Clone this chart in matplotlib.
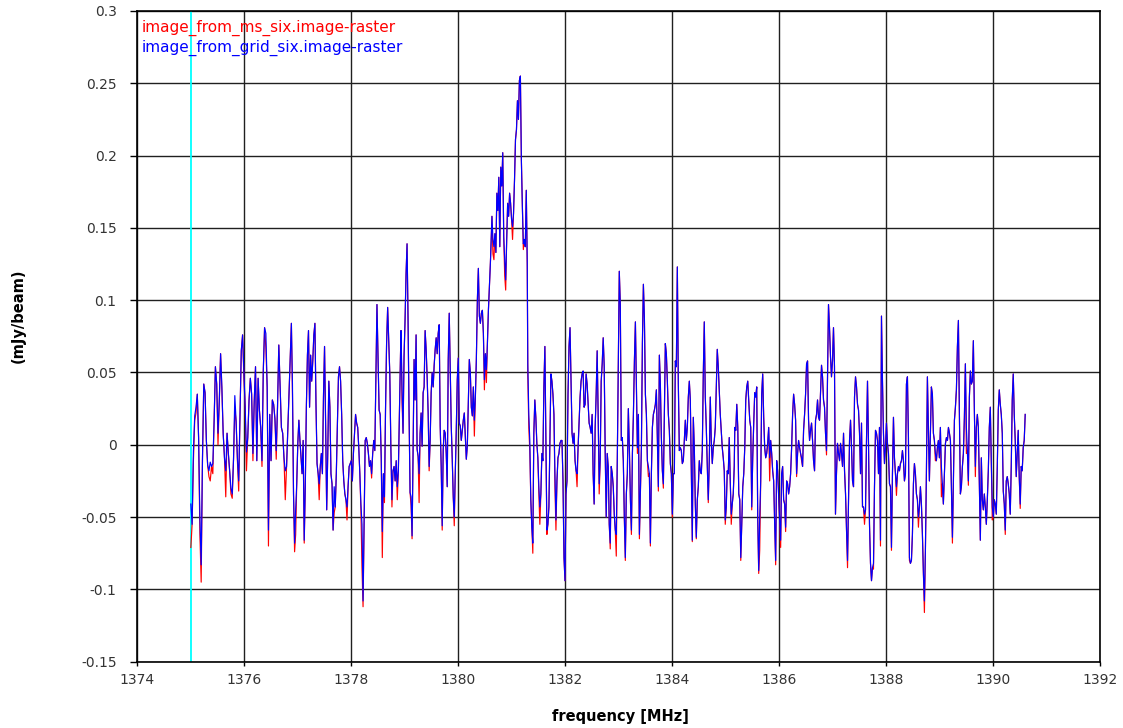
import numpy as np
import matplotlib
matplotlib.use("Agg")
import matplotlib.pyplot as plt

# channel ranges covered by each chunk of the spectrum (MHz)
seg_lo = [1375.00, 1376.88, 1378.93, 1380.63, 1381.30, 1383.20, 1385.17, 1387.11, 1389.09]
seg_hi = [1376.79, 1378.92, 1380.62, 1381.29, 1383.18, 1385.16, 1387.09, 1389.07, 1390.60]

# image_from_grid_six (blue), values in uJy/beam
grid_1 = [-41, -55, -4, 20, 26, 35, 5, -50, -83, -10, 42, 36, 3, -14, -18, -12, -15, -13, 16, 54,
          42, 8, 30, 63, 40, 8, -9, -18, 8, -6, -18, -30, -34, -10, 34, 16, -9, -25, 20, 65,
          76, 50, 26, -5, 5, 31, 46, 35, -6, 30, 54, -11, 46, 24, 12, -11, 51, 81, 77, 40,
          -59, 21, -11, 31, 28, 18, -4, 26, 69, 40, 12, 8, -9, -18, -15]
grid_2 = [84, 42, -34, -68, -45, -27, 1, 17, 3, -9, -20, 3, -66, -29, 26, 62, 79, 26, 62, 44,
          58, 76, 84, 28, -13, -20, -27, -15, -6, -20, 33, 68, 15, -45, -6, 44, 26, -20, -27, -59,
          -29, -43, -20, 15, 47, 54, 44, 21, -11, -25, -34, -38, -43, -29, -15, -13, -11, -25, -6, 8,
          21, 15, 12, -2, -20, -41, -55, -108, -52, 3, 5, 1, -6, -15, -11, -20, -6, 3, -4, 49,
          97, 61, 24, 21, -9, -60, -20, -36, 24, 70, 95, 72, 49, -2, -38, -18, -15, -25, -11, -29,
          -18, 24, 62]
grid_3 = [79, 40, 8, 61, 86, 118, 139, 86, 22, -33, -36, -63, -6, 59, 31, 76, -3, -8, -20, 8,
          22, -1, 36, 40, 79, 66, 47, 22, -15, 3, 36, 50, 40, 55, 66, 74, 63, 77, 83, 13,
          -15, -56, -3, 10, 8, -6, -29, 59, 91, 50, 13, -10, -36, -50, -20, 10, 45, 60, 15, 13,
          3, 10, 17, 22, 6, -10, -1, 29, 59, 50, 26, 20, 40, 17, 33, 59, 100, 122, 89, 84,
          91, 93, 77, 45, 63, 52, 70, 93, 109, 126, 146]
grid_4 = [158, 142, 137, 146, 133, 174, 162, 185, 137, 192, 179, 202, 144, 128, 114, 142, 167, 158, 174, 167,
          156, 151, 160, 183, 211, 218, 238, 225, 252, 255, 197, 165, 139, 142, 137, 176, 126]
grid_5 = [56, 21, 3, -38, -57, -68, 8, 31, 19, 1, -9, -29, -43, -34, -6, -11, 40, 68, 3, -59,
          -55, -43, 1, 49, 44, 35, 21, -20, -52, -25, -9, -6, 1, 3, 3, -25, -78, -94, -34, -25,
          35, 68, 81, 44, 8, 1, 8, -11, -18, -20, -2, 15, 33, 44, 49, 51, 26, 28, 49, 42,
          28, 15, 12, 8, 21, -20, -41, 12, 35, 65, 21, -27, -11, 44, 56, 74, 54, -6, -50, -6,
          -15, -55, -68, -15, -20, -29, -48, -59, -62, -11, 54, 120, 97, 3, 5, -11, -50, -78, -34, -20,
          25]
grid_6 = [-4, -38, -59, -6, 21, 58, 85, 40, -2, 21, -62, -32, -2, 70, 111, 88, 35, 21, -11, -15,
          -20, -68, -20, 12, 21, 24, 28, 38, 3, -29, 62, 42, 5, -18, -27, 21, 70, 63, 44, 21,
          10, -13, -20, -48, -20, -20, 58, 54, 123, 42, -4, -2, -4, -13, -11, 3, 17, 3, 12, 33,
          44, 31, -20, -66, 19, -2, -41, -64, -38, -29, -11, -18, -20, -4, 49, 85, 33, 12, -15, -38,
          -11, 33, 3, -13, -2, 3, 12, 38, 66, 54, 38, 21, 10, -2, -9, -18, -52, -43, -18, -20,
          5, -25, -48, -41, -34, -15]
grid_7 = [12, 10, 28, 12, -34, -38, -78, -55, -29, -20, -2, 31, 40, 44, 31, 17, 12, -43, -9, 15,
          36, 33, 40, -50, -87, -50, -25, 35, 49, 19, -2, -9, -6, 1, 12, -9, 3, -6, -18, -25,
          -55, -80, -11, -18, -36, -52, -66, -20, -15, -38, -41, -57, -25, -27, -34, -29, -20, -2, 21, 35,
          28, 17, -20, -6, 3, -2, -6, -9, -15, 10, 21, 35, 56, 58, 17, 3, 10, 15, 3, -11,
          -18, 17, 21, 31, 19, 17, 35, 55, 47, 31, 26, 8, -4, 44, 97, 81, 61, 47, 58, 81,
          54, -48, -20, 1]
grid_8 = [-6, -11, 1, -6, -15, 8, -18, -34, -59, -80, -38, 3, 17, -2, -25, -29, 33, 47, 40, 28,
          24, 8, -20, 15, -43, -43, -48, -45, 3, 44, 1, -55, -82, -94, -85, -82, -29, 10, 8, 3,
          -20, 12, -66, 89, 44, 8, -13, -2, 15, 1, -6, -27, -29, -71, -20, 19, -9, -20, -29, -20,
          -15, -18, -13, -11, -4, -11, -25, -20, 42, 47, 5, -78, -82, -80, -62, -27, -13, -20, -34, -38,
          -50, -43, -29, -41, -62, -89, -108, -73, -20, 47, 10, -25, 8, 40, 35, 8, 3, -6, -11, -2,
          3, -9, 12, -15, -27, -41]
grid_9 = [-20, 1, 5, 3, 12, 8, 3, -29, -64, -25, 17, 26, 38, 68, 86, 21, -34, -29, -15, -6,
          19, 56, 12, -4, -25, 33, 51, 42, 44, 72, 24, -15, 12, 21, 12, -29, -66, -9, -38, -45,
          -34, -43, -55, -38, -18, 12, 26, -11, -43, -50, -38, -41, -48, -15, 24, 38, 28, 21, 8, -32,
          -41, -59, -25, -22, -27, -34, -48, -15, 31, 49, 21, 3, -22, -6, 10, -22, -41, -15, -18, -2,
          3, 21]

# image_from_ms_six (red), values in uJy/beam
ms_1 = [-71, -55, -11, 17, 22, 35, 5, -61, -95, -10, 42, 36, 3, -14, -22, -25, -15, -20, 16, 54,
        42, 0, 30, 63, 38, 8, -9, -36, 8, -6, -18, -34, -37, -10, 25, 16, -11, -32, 20, 65,
        76, 47, 26, -18, 5, 31, 46, 35, -11, 30, 54, -11, 46, 24, 12, -15, 51, 81, 67, 40,
        -70, 21, -11, 31, 28, 18, -10, 26, 69, 40, 12, 8, -9, -38, -15]
ms_2 = [84, 35, -34, -74, -62, -27, 1, 17, 3, -9, -20, 3, -68, -29, 26, 62, 79, 26, 62, 44,
        58, 76, 84, 28, -13, -20, -38, -15, -6, -20, 33, 68, 15, -45, -6, 44, 26, -20, -27, -59,
        -47, -43, -20, 15, 47, 54, 44, 21, -11, -25, -34, -38, -52, -29, -15, -13, -11, -25, -6, 8,
        21, 15, 12, -2, -20, -45, -85, -112, -52, 3, 5, 1, -6, -15, -11, -23, -6, 3, -4, 49,
        97, 61, 24, 21, -9, -78, -20, -40, 24, 70, 95, 72, 49, -2, -43, -18, -15, -25, -11, -38,
        -18, 24, 62]
ms_3 = [79, 29, 8, 61, 86, 118, 139, 86, 22, -33, -42, -65, -6, 59, 31, 76, -3, -8, -40, 8,
        22, -1, 36, 40, 79, 66, 47, 22, -18, 3, 36, 50, 40, 55, 66, 74, 63, 77, 83, 13,
        -15, -59, -3, 10, 8, -6, -29, 59, 91, 50, 13, -10, -36, -56, -20, 10, 45, 60, 15, 13,
        3, 10, 17, 22, 6, -10, -1, 29, 59, 50, 26, 20, 40, 6, 33, 59, 100, 122, 89, 84,
        91, 93, 77, 38, 63, 43, 70, 93, 109, 126, 146]
ms_4 = [158, 132, 128, 146, 133, 174, 162, 185, 137, 192, 179, 202, 144, 117, 107, 142, 167, 158, 174, 167,
        156, 142, 160, 183, 211, 218, 238, 225, 252, 255, 197, 165, 135, 142, 137, 176, 123]
ms_5 = [49, 12, -4, -38, -57, -75, 8, 31, 19, 1, -9, -34, -55, -34, -6, -11, 40, 68, 3, -62,
        -55, -43, 1, 49, 44, 35, 21, -29, -59, -25, -9, -6, 1, 3, 3, -25, -78, -94, -34, -25,
        35, 68, 81, 44, 8, 1, 8, -11, -18, -29, -2, 15, 33, 44, 49, 51, 26, 28, 49, 42,
        28, 15, 12, 8, 21, -20, -41, 12, 35, 65, 21, -34, -11, 44, 56, 74, 54, -6, -50, -6,
        -15, -55, -72, -15, -20, -29, -48, -59, -77, -11, 54, 120, 97, 3, 5, -11, -50, -80, -34, -20,
        25]
ms_6 = [-4, -38, -62, -6, 21, 58, 85, 40, -6, 21, -65, -32, -2, 70, 111, 88, 35, 21, -11, -22,
        -20, -70, -20, 12, 21, 24, 28, 38, 3, -32, 62, 42, 5, -18, -30, 21, 70, 63, 44, 21,
        10, -13, -20, -50, -20, -20, 58, 54, 123, 42, -4, -2, -4, -13, -11, 3, 17, 3, 12, 33,
        44, 31, -20, -67, 19, -2, -41, -65, -38, -29, -11, -18, -20, -4, 49, 85, 33, 12, -15, -40,
        -11, 33, 3, -13, -2, 3, 12, 38, 66, 54, 38, 21, 10, -2, -9, -18, -55, -43, -18, -20,
        5, -25, -55, -41, -34, -15]
ms_7 = [12, 10, 28, 12, -34, -38, -80, -55, -29, -20, -2, 31, 40, 44, 31, 17, 12, -45, -9, 15,
        36, 33, 40, -50, -89, -73, -25, 35, 49, 19, -2, -9, -6, 1, 12, -25, 3, -6, -18, -25,
        -55, -83, -11, -18, -36, -52, -71, -20, -15, -38, -41, -60, -25, -27, -34, -29, -20, -2, 21, 35,
        28, 17, -22, -6, 3, -2, -6, -11, -15, 10, 21, 35, 56, 58, 17, 3, 10, 15, 3, -11,
        -18, 17, 21, 31, 19, 17, 35, 55, 47, 31, 26, 8, -7, 44, 97, 81, 61, 47, 58, 81,
        54, -48, -20, 1]
ms_8 = [-6, -11, 1, -6, -15, 8, -18, -34, -59, -85, -38, 3, 17, -2, -25, -29, 33, 47, 40, 28,
        24, 8, -20, 15, -43, -43, -55, -45, 3, 44, 1, -55, -82, -94, -85, -86, -29, 10, 8, 3,
        -20, 12, -70, 89, 44, 8, -13, -2, 15, 1, -6, -27, -29, -73, -20, 19, -9, -20, -35, -20,
        -15, -18, -13, -11, -4, -11, -25, -20, 42, 47, 5, -80, -82, -80, -62, -27, -13, -20, -34, -38,
        -57, -43, -29, -41, -62, -89, -116, -73, -20, 47, 10, -25, 8, 40, 35, 8, 3, -11, -11, -2,
        3, -9, 12, -36, -27, -41]
ms_9 = [-20, 1, 5, 3, 12, 8, 3, -29, -68, -25, 17, 26, 38, 68, 86, 21, -34, -29, -15, -6,
        19, 56, -6, -4, -28, 33, 51, 42, 44, 72, 24, -22, 12, 21, 12, -29, -66, -9, -38, -45,
        -34, -43, -55, -38, -18, 12, 26, -11, -52, -50, -38, -41, -48, -15, 24, 38, 28, 21, 8, -32,
        -41, -62, -25, -22, -27, -34, -48, -15, 31, 49, 21, 3, -22, -6, 10, -22, -44, -15, -18, -2,
        3, 21]

x_ticks = [1374, 1376, 1378, 1380, 1382, 1384, 1386, 1388, 1390, 1392]
y_ticks = [-0.15, -0.1, -0.05, 0, 0.05, 0.1, 0.15, 0.2, 0.25, 0.3]
y_tick_labels = ['-0.15', '-0.1', '-0.05', '0', '0.05', '0.1', '0.15', '0.2', '0.25', '0.3']
marker_freq = 1375.0

grid_segs = [grid_1, grid_2, grid_3, grid_4, grid_5, grid_6, grid_7, grid_8, grid_9]
ms_segs = [ms_1, ms_2, ms_3, ms_4, ms_5, ms_6, ms_7, ms_8, ms_9]

freq = np.concatenate([np.linspace(lo, hi, len(s)) for lo, hi, s in zip(seg_lo, seg_hi, grid_segs)])
grid = np.concatenate(grid_segs) / 1000.0
ms = np.concatenate(ms_segs) / 1000.0

fig = plt.figure(figsize=(11.23, 7.28), dpi=100)
ax = fig.add_axes([0.1223, 0.0911, 0.8573, 0.8938])

ax.grid(True, color='#202020', lw=1.0)
ax.set_axisbelow(True)
ax.axvline(marker_freq, color='cyan', lw=1.3, zorder=1.5)

ax.plot(freq, ms, color='#ff0000', lw=0.85, zorder=2)
ax.plot(freq, grid, color='#0000ff', lw=0.85, zorder=3)

ax.set_xlim(1374, 1392)
ax.set_ylim(-0.15, 0.3)
ax.set_xticks(x_ticks)
ax.set_xticklabels([str(t) for t in x_ticks])
ax.set_yticks(y_ticks)
ax.set_yticklabels(y_tick_labels)
ax.tick_params(axis='x', direction='out', length=3, width=1, labelsize=10, pad=5, labelcolor='#333333')
ax.tick_params(axis='y', direction='out', length=5, width=1, labelsize=10, pad=10, labelcolor='#333333')
for s in ax.spines.values():
    s.set_linewidth(1.2)
    s.set_color('black')

fig.text(142/1123, 1-28/728, 'image_from_ms_six.image-raster', color='#ff0000', fontsize=11, va='center')
fig.text(142/1123, 1-48/728, 'image_from_grid_six.image-raster', color='#0000ff', fontsize=11, va='center')

fig.text(620/1123, 1-716/728, 'frequency [MHz]', fontsize=10.5, fontweight='bold', ha='center', va='center')
fig.text(18/1123, 1-316/728, '(mJy/beam)', fontsize=10.5, fontweight='bold', ha='center', va='center', rotation=90)

fig.savefig('out.png', dpi=100)
